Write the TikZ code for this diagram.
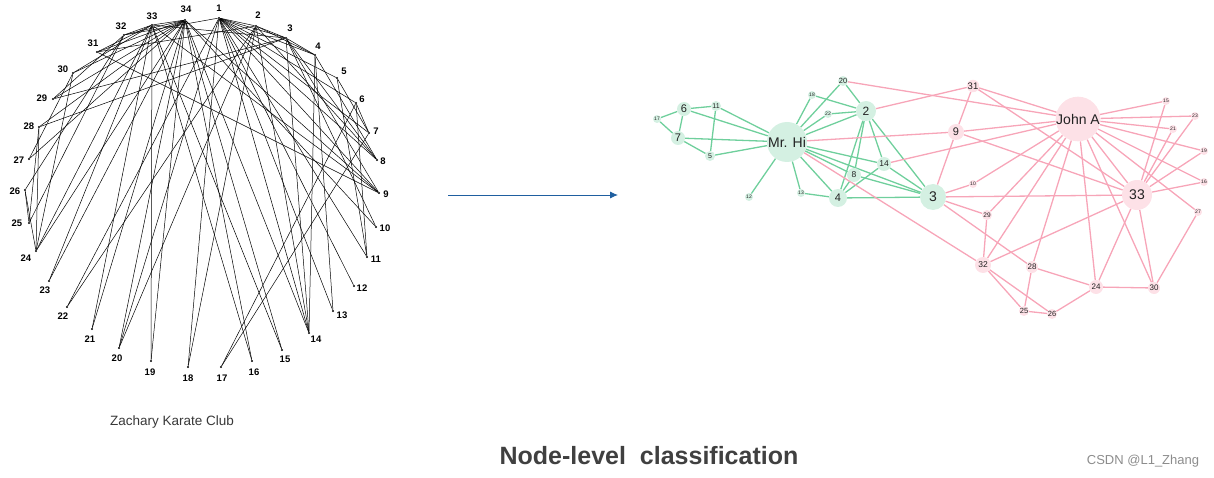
\documentclass[tikz,border=0pt]{standalone}
\usepackage{fontspec}
\setmainfont{Liberation Sans}
\usetikzlibrary{arrows.meta,backgrounds}
\definecolor{gedge}{HTML}{6FCF9C}
\definecolor{pedge}{HTML}{F7A5B8}
\definecolor{gfill}{HTML}{D4F0E2}
\definecolor{pfill}{HTML}{FDE1E7}
\definecolor{txt}{HTML}{222222}
\definecolor{arrowblue}{HTML}{1F5FA0}
\tikzset{
  dot/.style={circle,fill=black,inner sep=0,minimum size=2.4pt},
  lab/.style={font=\bfseries\fontsize{9.5}{9.5}\selectfont,inner sep=0},
  ledge/.style={draw=black,line width=0.5pt},
  gn/.style={circle,fill=gfill,inner sep=0,text=txt},
  pn/.style={circle,fill=pfill,inner sep=0,text=txt},
  ge/.style={draw=gedge,line width=1.3pt},
  pe/.style={draw=pedge,line width=1.3pt},
}
\begin{document}
\begin{tikzpicture}[x=1pt,y=-1pt]
\useasboundingbox (0,0) rectangle (1214,478);
% ---------- left circular graph ----------
\foreach \n/\x/\y/\lx/\ly in {
1/219/18/219/8, 2/256/26/258/15, 3/286/38/290/28, 4/315/55/318/46,
5/337/78/344/71, 6/356/103/362/99, 7/369/133/376/131, 8/377/160/383/161,
9/379/193/386/194, 10/376/227/385/228, 11/367/257/376/259, 12/354/286/362/288,
13/333/311/342/315, 14/309/333/316/339, 15/282/350/285/359, 16/252/361/254/372,
17/221/367/222/378, 18/188/367/188/378, 19/151/361/150/372, 20/119/348/117/358,
21/92/329/90/339, 22/67/307/63/316, 23/49/281/45/290, 24/36/251/26/258,
25/29/223/17/223, 26/25/190/15/191, 27/29/159/19/160, 28/39/127/29/126,
29/53/99/42/98, 30/73/73/63/69, 31/97/52/93/43, 32/124/35/121/26,
33/152/25/152/16, 34/185/20/186/9}{
  \node[dot] (L\n) at (\x,\y) {};
  \node[lab] (T\n) at (\lx,\ly) {\n};
}
\foreach \a/\b in {1/2,1/3,1/4,1/5,1/6,1/7,1/8,1/9,1/11,1/12,1/13,1/14,1/18,1/20,1/22,1/32,
2/3,2/4,2/8,2/14,2/18,2/20,2/22,2/31,3/4,3/8,3/9,3/10,3/14,3/28,3/29,3/33,
4/8,4/13,4/14,5/7,5/11,6/7,6/11,6/17,7/17,9/31,9/33,9/34,10/34,14/34,
15/33,15/34,16/33,16/34,19/33,19/34,20/34,21/33,21/34,23/33,23/34,
24/26,24/28,24/30,24/33,24/34,25/26,25/28,25/32,26/32,27/30,27/34,28/34,
29/32,29/34,30/33,30/34,31/33,31/34,32/33,32/34,33/34}{
  \draw[ledge] (L\a) -- (L\b);
}
\node[font=\fontsize{13.5}{13.5}\selectfont,text=txt!90] (cap) at (172,422) {Zachary Karate Club};
% ---------- arrow ----------
\coordinate (a0) at (448,195);
\coordinate (a1) at (618,195);
\draw[arrowblue,line width=0.9pt,-{Latex[length=8pt,width=7pt]}] (a0) -- (a1);
% ---------- right graph ----------
\foreach \n/\x/\y/\r/\f/\t/\s in {
1/787/142/20/14/Mr. Hi/gn, 2/866/111/10/12/2/gn, 3/933/197/13/14/3/gn,
4/838/198/9/11/4/gn, 5/710/156/5/7/5/gn, 6/684/109/7/11/6/gn,
7/678/138/7/11/7/gn, 8/854/175/7/8.5/8/gn, 9/956/132/8/11/9/pn,
10/973/184/4/5/10/pn, 11/716/106/5/7/11/gn, 12/749/197/4/5/12/gn,
13/801/193/4/5/13/gn, 14/884/164/7/8.5/14/gn, 15/1166/101/4/5/15/pn,
16/1204/182/4/5/16/pn, 17/657/119/4/5/17/gn, 18/812/95/4/5/18/gn,
19/1204/151/4/5/19/pn, 20/843/81/5/7.5/20/gn, 21/1173/129/4/5/21/pn,
22/828/114/4/5/22/gn, 23/1195/116/4/5/23/pn, 24/1096/287/7/8/24/pn,
25/1024/311/5/7.5/25/pn, 26/1052/314/5/7.5/26/pn, 27/1198/212/4/5/27/pn,
28/1032/267/6/8/28/pn, 29/987/215/5/6.5/29/pn, 30/1154/288/6/8/30/pn,
31/973/86/6/9.5/31/pn, 32/983/265/8/8.5/32/pn, 33/1137/195/15/14/33/pn,
34/1078/119/21/14/John A/pn}{
  \node[\s,minimum size=\r*2pt,font=\fontsize{\f}{\f}\selectfont] (R\n) at (\x,\y) {\t};
}
\begin{scope}[on background layer]
\foreach \a/\b in {1/2,1/3,1/4,1/5,1/6,1/7,1/8,1/11,1/12,1/13,1/14,1/18,1/20,1/22,
2/3,2/4,2/8,2/14,2/18,2/20,2/22,3/4,3/8,3/14,4/8,4/13,4/14,5/7,5/11,6/7,6/11,6/17,7/17}{
  \draw[ge] (R\a) -- (R\b);
}
\foreach \a/\b in {1/9,1/32,2/31,3/9,3/10,3/28,3/29,3/33,9/31,9/33,9/34,10/34,14/34,
15/33,15/34,16/33,16/34,19/33,19/34,20/34,21/33,21/34,23/33,23/34,
24/26,24/28,24/30,24/33,24/34,25/26,25/28,25/32,26/32,27/30,27/34,28/34,
29/32,29/34,30/33,30/34,31/33,31/34,32/33,32/34,33/34}{
  \draw[pe] (R\a) -- (R\b);
}
\end{scope}
% ---------- texts ----------
\node[font=\bfseries\fontsize{25}{25}\selectfont,text=black!75] (title) at (649,456) {Node-level\ \ classification};
\node[font=\fontsize{13}{13}\selectfont,text=black!45] (wm) at (1143,461) {CSDN @L1\_Zhang};
\end{tikzpicture}
\end{document}
